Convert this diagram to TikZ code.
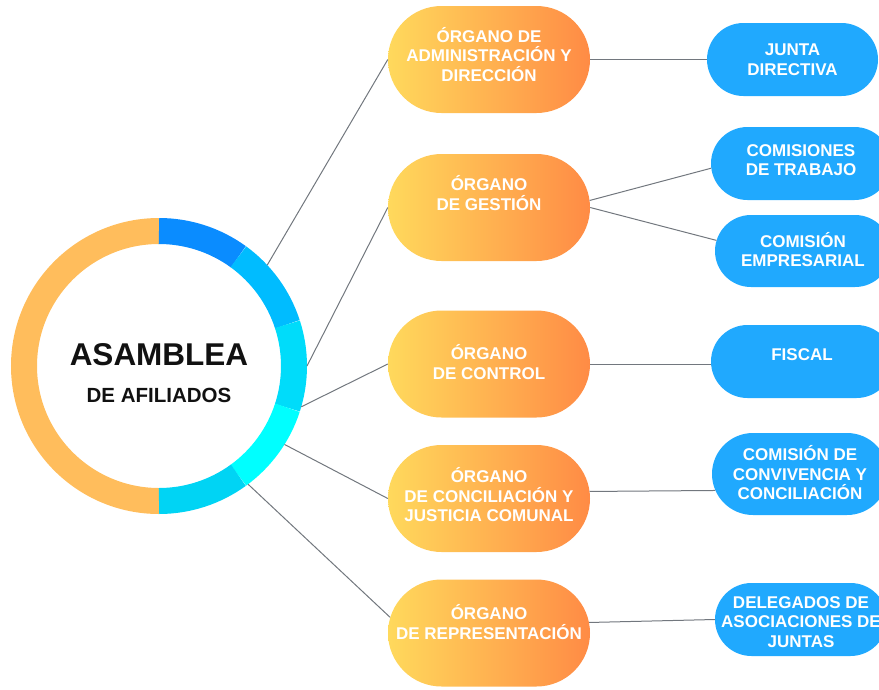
\documentclass[tikz,border=0pt]{standalone}
\usepackage{fontspec}
\setmainfont{Liberation Sans}
\usetikzlibrary{shapes.misc,calc}
\definecolor{ringorange}{HTML}{FFBD5C}
\definecolor{segA}{HTML}{0A8CFF}
\definecolor{segB}{HTML}{00BCFF}
\definecolor{segC}{HTML}{00DCFA}
\definecolor{segD}{HTML}{00FFFF}
\definecolor{segE}{HTML}{00D4F4}
\definecolor{oyellow}{HTML}{FFD95C}
\definecolor{oorange}{HTML}{FF8B45}
\definecolor{bblue}{HTML}{20A9FE}
\definecolor{linegray}{HTML}{72777E}
\definecolor{darktext}{HTML}{111111}
\begin{document}
\begin{tikzpicture}[x=1pt,y=1pt,
  obox/.style={rounded rectangle, inner sep=0pt, minimum width=202pt, minimum height=107pt, left color=oyellow, right color=oorange, draw=none},
  bbox/.style={rounded rectangle, inner sep=0pt, minimum height=73pt, fill=bblue, draw=none},
  lbl/.style={text=white, font=\bfseries\fontsize{17}{19.5}\selectfont, align=center, inner sep=0pt},
  conn/.style={draw=linegray, line width=1pt},
  seg/.style={line width=26pt}]
\useasboundingbox (0,0) rectangle (879,-689);
\begin{scope}
\clip (0,0) rectangle (879,-689);

% centre ring
\coordinate (C) at (159,-366);
\draw[seg, ringorange] ($(C)+(90:135)$) arc[start angle=90, end angle=270, radius=135];
\draw[seg, segA] ($(C)+(90:135)$) arc[start angle=90, end angle=54, radius=135];
\draw[seg, segB] ($(C)+(54:135)$) arc[start angle=54, end angle=18, radius=135];
\draw[seg, segC] ($(C)+(18:135)$) arc[start angle=18, end angle=-18, radius=135];
\draw[seg, segD] ($(C)+(-18:135)$) arc[start angle=-18, end angle=-54, radius=135];
\draw[seg, segE] ($(C)+(-54:135)$) arc[start angle=-54, end angle=-90, radius=135];

\node[text=darktext, font=\bfseries\fontsize{31.5}{36}\selectfont, inner sep=0pt] (asm) at (159,-355) {ASAMBLEA};
\node[text=darktext, font=\bfseries\fontsize{20.5}{23}\selectfont, inner sep=0pt] (afi) at (159,-395) {DE AFILIADOS};

\coordinate (r1) at ($(C)+(43:148)$);
\coordinate (r2) at ($(C)+(0:148)$);
\coordinate (r3) at ($(C)+(-16:148)$);
\coordinate (r4) at ($(C)+(-32:148)$);
\coordinate (r5) at ($(C)+(-53:148)$);

% organ boxes
\node[obox] (o1) at (489,-59.5) {};
\node[obox] (o2) at (489,-207.5) {};
\node[obox] (o3) at (489,-364) {};
\node[obox] (o4) at (489,-498.5) {};
\node[obox] (o5) at (489,-633) {};

\node[lbl] (t1) at ([yshift=5]o1.center) {ÓRGANO DE\\ADMINISTRACIÓN Y\\DIRECCIÓN};
\node[lbl] (t2) at ([yshift=14.5]o2.center) {ÓRGANO\\DE GESTIÓN};
\node[lbl] (t3) at ([yshift=2]o3.center) {ÓRGANO\\DE CONTROL};
\node[lbl] (t4) at ([yshift=3.5]o4.center) {ÓRGANO\\DE CONCILIACIÓN Y\\JUSTICIA COMUNAL};
\node[lbl] (t5) at ([yshift=11]o5.center) {ÓRGANO\\DE REPRESENTACIÓN};

% blue boxes
\node[bbox, minimum width=171pt] (b1) at (792.5,-59.5) {};
\node[bbox, minimum width=180pt] (b2) at (801,-163.5) {};
\node[bbox, minimum width=176pt, minimum height=72pt] (b3) at (803,-251) {};
\node[bbox, minimum width=182pt] (b4) at (802,-361.5) {};
\node[bbox, minimum width=176pt, minimum height=82pt] (b5) at (800,-474) {};
\node[bbox, minimum width=172pt] (b6) at (801,-619.5) {};

\node[lbl] (u1) at (b1.center) {JUNTA\\DIRECTIVA};
\node[lbl] (u2) at ([yshift=3.5]b2.center) {COMISIONES\\DE TRABAJO};
\node[lbl] (u3) at ([yshift=1.5]b3.center) {COMISIÓN\\EMPRESARIAL};
\node[lbl] (u4) at ([yshift=6.5]b4.center) {FISCAL};
\node[lbl] (u5) at ([yshift=1]b5.center) {COMISIÓN DE\\CONVIVENCIA Y\\CONCILIACIÓN};
\node[lbl] (u6) at ([yshift=-2.5]b6.center) {DELEGADOS DE\\ASOCIACIONES DE\\JUNTAS};

% connectors
\draw[conn] (r1) -- (o1.west);
\draw[conn] (r2) -- (o2.west);
\draw[conn] (r3) -- (o3.west);
\draw[conn] (r4) -- (o4.west);
\draw[conn] (r5) -- (o5.171);

\draw[conn] (o1.east) -- (b1.west);
\draw[conn] (o2.4) -- (b2.183);
\draw[conn] (o2.east) -- (b3.173);
\draw[conn] (o3.east) -- (o3.east -| b4.west);
\draw[conn] (o4.4) -- (b5.191);
\draw[conn] (o5.6) -- (b6.west);
\end{scope}
\end{tikzpicture}
\end{document}
